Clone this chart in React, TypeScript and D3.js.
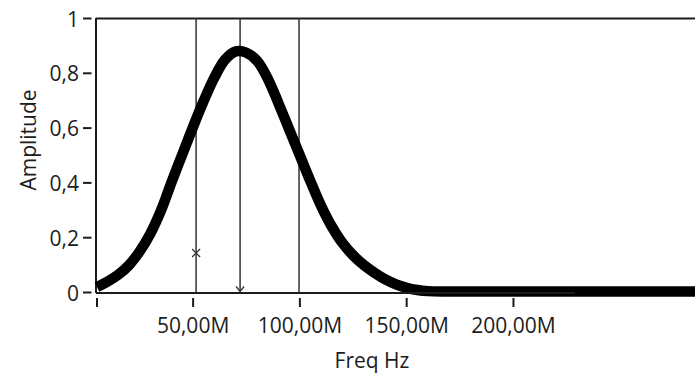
import React, { useEffect } from "react";
import * as d3 from "d3";

const freqM = [5, 10, 15, 20, 25, 30, 35, 40, 45, 50, 55, 60, 65, 70, 75, 80, 85, 90, 95, 100, 105, 110, 115, 120, 125, 130, 135, 140, 145, 150, 155, 160, 170, 200, 250, 285];
const amplitude = [0.02, 0.04, 0.065, 0.1, 0.15, 0.215, 0.3, 0.405, 0.505, 0.605, 0.7, 0.785, 0.85, 0.88, 0.875, 0.845, 0.78, 0.69, 0.595, 0.5, 0.405, 0.315, 0.24, 0.18, 0.135, 0.1, 0.072, 0.048, 0.03, 0.017, 0.009, 0.005, 0.004, 0.004, 0.004, 0.004];
const yTicks = [0, 0.2, 0.4, 0.6, 0.8, 1];
const yTickLabels = ["0", "0,2", "0,4", "0,6", "0,8", "1"];
const xTicks = [5, 50, 100, 150, 200];
const xTickLabels = ["", "50,00M", "100,00M", "150,00M", "200,00M"];
const cursorsM = [51.4, 72, 99.6];
const cursorX = { f: 51.4, a: 0.144 };
const cursorArrow = { f: 72, a: 0 };
const xTitle = "Freq Hz";
const yTitle = "Amplitude";

const W = 695;
const H = 379;
const font = "'Open Sans', 'Noto Sans', sans-serif";
const ink = "#1c1c1c";

export default function App() {
  useEffect(() => {
    document.body.style.margin = "0";
  }, []);
  const x = d3.scaleLinear().domain([5, 285]).range([97, 695]);
  const y = d3.scaleLinear().domain([0, 1]).range([292.5, 18.5]);
  const pts: [number, number][] = freqM.map((f, i) => [f, amplitude[i]]);
  const line = d3
    .line<[number, number]>()
    .x((d) => x(d[0]))
    .y((d) => y(d[1]))
    .curve(d3.curveCatmullRom.alpha(0.5));
  const axisEnd = 575;
  return (
    <svg width={W} height={H} style={{ display: "block", background: "#fff" }}>
      {/* frame */}
      <line x1={96} x2={W} y1={18.5} y2={18.5} stroke={ink} strokeWidth={2} />
      <line x1={96} x2={96} y1={18} y2={293} stroke={ink} strokeWidth={2} />
      {/* cursors */}
      {cursorsM.map((c, i) => (
        <line key={i} x1={x(c)} x2={x(c)} y1={18} y2={293} stroke="#333" strokeWidth={1.5} />
      ))}
      {/* curve */}
      <path d={line(pts) || ""} fill="none" stroke="#000" strokeWidth={10.5} strokeLinejoin="round" />
      {/* bottom axis */}
      <line x1={96} x2={axisEnd} y1={293} y2={293} stroke={ink} strokeWidth={2} />
      {/* cursor markers */}
      <g stroke="#333" strokeWidth={1.3} fill="none">
        <path d={`M${x(cursorX.f) - 4},${y(cursorX.a) - 4}L${x(cursorX.f) + 4},${y(cursorX.a) + 4}M${x(cursorX.f) - 4},${y(cursorX.a) + 4}L${x(cursorX.f) + 4},${y(cursorX.a) - 4}`} />
        <path d={`M${x(cursorArrow.f) - 4},${y(cursorArrow.a) - 6}L${x(cursorArrow.f)},${y(cursorArrow.a) - 1}L${x(cursorArrow.f) + 4},${y(cursorArrow.a) - 6}`} />
      </g>
      {/* y ticks */}
      {yTicks.map((t, i) => (
        <g key={i}>
          <line x1={83} x2={91.5} y1={y(t)} y2={y(t)} stroke={ink} strokeWidth={2} />
          <text x={79} y={y(t) + 8} textAnchor="end" fontFamily={font} fontSize={21} fill={ink}>
            {yTickLabels[i]}
          </text>
        </g>
      ))}
      {/* x ticks */}
      {xTicks.map((t, i) => (
        <g key={i}>
          <line x1={x(t)} x2={x(t)} y1={298} y2={307} stroke={ink} strokeWidth={2} />
          <text x={x(t)} y={333} textAnchor="middle" fontFamily={font} fontSize={21} fill={ink}>
            {xTickLabels[i]}
          </text>
        </g>
      ))}
      <text x={372} y={368} textAnchor="middle" fontFamily={font} fontSize={21} fill={ink}>
        {xTitle}
      </text>
      <text
        transform={`translate(36,140) rotate(-90)`}
        textAnchor="middle"
        fontFamily={font}
        fontSize={21}
        fill={ink}
      >
        {yTitle}
      </text>
    </svg>
  );
}
